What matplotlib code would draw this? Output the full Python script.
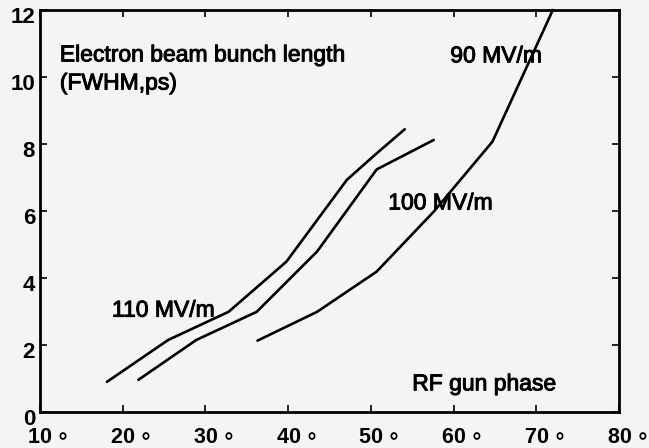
import matplotlib
matplotlib.use('Agg')
import matplotlib.pyplot as plt
import matplotlib.patheffects as pe
from matplotlib.transforms import ScaledTranslation

plt.rcParams['font.family'] = ['Liberation Sans', 'DejaVu Sans']

# curvas de comprimento do pacote (FWHM, ps) x fase do canhao RF
fase_110 = [18.1, 25.5, 32.8, 39.8, 47.1, 50.7, 54.1]
compr_110 = [0.90, 2.15, 2.99, 4.49, 6.93, 7.72, 8.44]

fase_100 = [21.9, 28.9, 36.2, 43.5, 50.7, 57.6]
compr_100 = [0.96, 2.15, 2.99, 4.79, 7.24, 8.12]

fase_90 = [36.3, 43.5, 50.7, 57.6, 64.7, 72.0]
compr_90 = [2.13, 2.99, 4.19, 5.98, 8.07, 12.0]

xticks = [10, 20, 30, 40, 50, 60, 70, 80]
xrotulos = [f"{v}\u2009\u2218" for v in xticks]
yticks = [0, 2, 4, 6, 8, 10, 12]

fundo = '#f4f4f4'
fig = plt.figure(figsize=(6.49, 4.48), dpi=100, facecolor=fundo)
ax = fig.add_axes([0.0616, 0.0804, 0.8922, 0.8973], facecolor=fundo)

for xs, ys in [(fase_110, compr_110), (fase_100, compr_100), (fase_90, compr_90)]:
    ax.plot(xs, ys, color='black', lw=1.9, solid_capstyle='round', clip_on=False)

ax.set_xlim(10, 80)
ax.set_ylim(0, 12)
ax.set_xticks(xticks)
ax.set_xticklabels(xrotulos)
ax.set_yticks(yticks)
ax.set_yticklabels([str(v) for v in yticks])

ax.tick_params(direction='in', length=5, width=1.2, top=True, right=True,
               labelsize=16, colors='black')
ax.tick_params(axis='x', pad=11, labelsize=15.5)
ax.tick_params(axis='y', pad=3.5)

for s in ax.spines.values():
    s.set_linewidth(2)

# numero centrado no tick, circulo pendurado a direita
for lab in ax.get_xticklabels():
    lab.set_fontweight('bold')
    lab.set_horizontalalignment('left')
    lab.set_transform(lab.get_transform() + ScaledTranslation(-0.115, 0, fig.dpi_scale_trans))
for lab in ax.get_yticklabels():
    lab.set_fontweight('bold')
    lab.set_transform(lab.get_transform() + ScaledTranslation(0, -0.055, fig.dpi_scale_trans))

fs = 16.5
grosso = [pe.withStroke(linewidth=0.7, foreground='black')]
textos = [
    (12.4, 10.66, 'Electron beam bunch length'),
    (12.4, 9.82, '(FWHM,ps)'),
    (18.7, 3.04, '110 MV/m'),
    (52.1, 6.24, '100 MV/m'),
    (59.6, 10.63, '90 MV/m'),
    (55.0, 0.84, 'RF gun phase'),
]
for x, y, t in textos:
    ax.text(x, y, t, fontsize=fs, va='center', ha='left', path_effects=grosso)

fig.savefig('out.png', dpi=100, facecolor=fundo)
